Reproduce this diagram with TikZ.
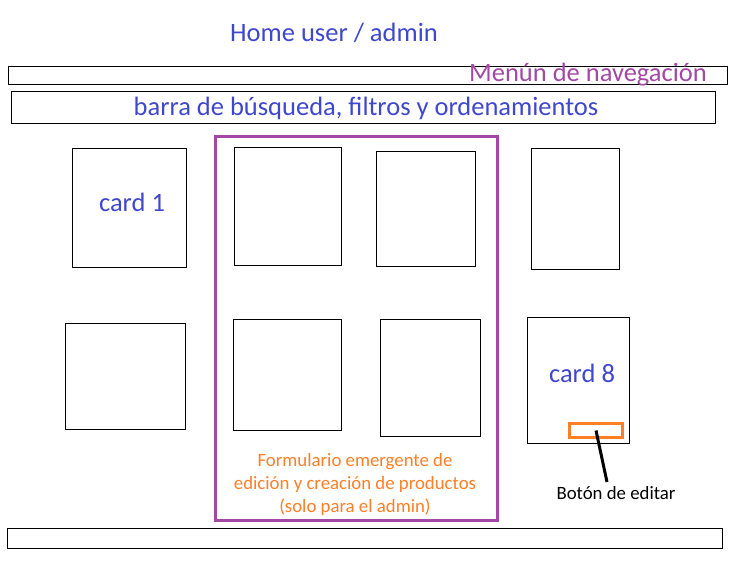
\documentclass[tikz,border=0pt]{standalone}
\usepackage{fontspec}
\setmainfont{Carlito}
\usepackage{xcolor}
\definecolor{txtblue}{RGB}{63,72,204}
\definecolor{menupurple}{RGB}{163,73,164}
\definecolor{btnorange}{RGB}{255,127,39}
\tikzset{
  box/.style={draw=black, line width=1pt},
  bluetext/.style={text=txtblue, font=\fontsize{26.5}{30}\selectfont},
}
\begin{document}
\begin{tikzpicture}[x=1pt, y=-1pt]

    \useasboundingbox[fill=white] (0,0) rectangle (736,565);

    % barras
    \node (title) at (334, 33) [bluetext] {Home user / admin};
    \draw [box] (8,66) rectangle (727,84);
    \node (menu) at (588, 75) [text=menupurple, font=\fontsize{26.5}{30}\selectfont] {Menún de navegación};
    \draw [box] (11,91) rectangle (715,123);
    \node (search) at (366, 108) [bluetext] {barra de búsqueda, filtros y ordenamientos};
    \draw [box] (7,528) rectangle (722,548);

    % cards
    \draw [box] (72,148) rectangle (186,267);
    \node (c1) at (132, 202) [bluetext] {card 1};
    \draw [box] (234,147) rectangle (341,265);
    \draw [box] (376,151) rectangle (475,266);
    \draw [box] (531,148) rectangle (619,269);
    \draw [box] (65,323) rectangle (185,429);
    \draw [box] (233,319) rectangle (341,430);
    \draw [box] (380,319) rectangle (480,436);
    \draw [box] (527,317) rectangle (629,443);
    \node (c8) at (582, 373) [bluetext] {card 8};

    % formulario
    \draw [draw=menupurple, line width=3pt] (215,136) rectangle (497,520);
    \node (form) at (355, 484) [text=btnorange, align=center,
      font=\fontsize{18.8}{23}\selectfont] {Formulario emergente de\\edición y creación de productos\\(solo para el admin)};

    % boton
    \node (btn) at (596, 430.5) [draw=btnorange, line width=2.5pt,
      minimum width=53pt, minimum height=14pt, inner sep=0pt] {};
    \node (lbl) at (616, 493) [font=\fontsize{18.8}{22}\selectfont] {Botón de editar};
    \coordinate (tip) at (607, 482);
    \draw [line width=3pt] (btn.center) -- (tip);

\end{tikzpicture}
\end{document}
